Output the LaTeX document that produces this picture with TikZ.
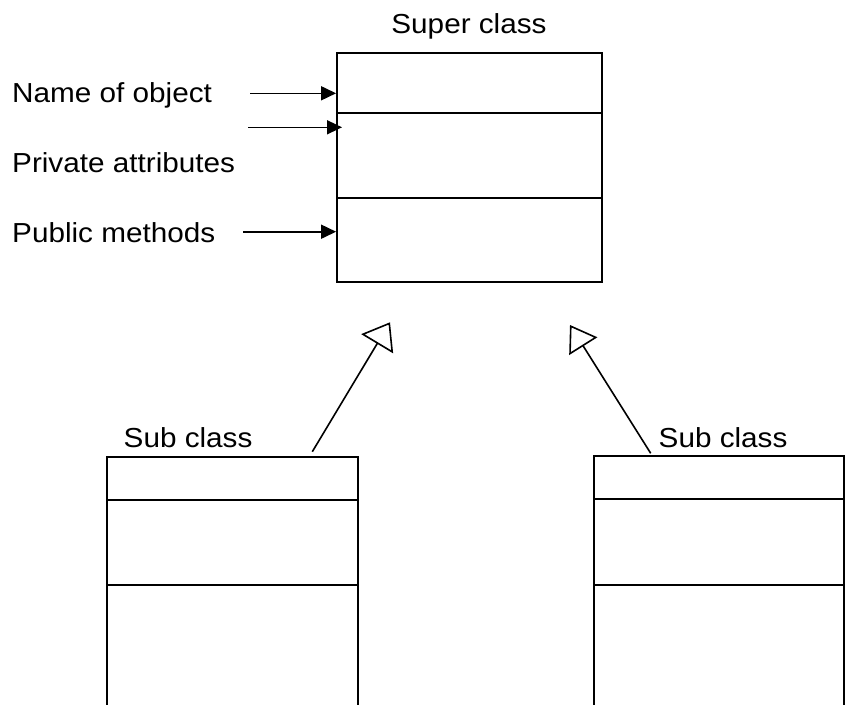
\documentclass[tikz,border=0pt]{standalone}
\usepackage{fontspec}
\setmainfont[FakeStretch=1.08]{Liberation Sans}
\usetikzlibrary{arrows.meta}
\begin{document}
\begin{tikzpicture}[x=1pt,y=-1pt,
  lbl/.style={font=\fontsize{27.5}{30}\selectfont, inner sep=0pt, anchor=base west},
  box/.style={draw, line width=1.8pt, inner sep=0pt},
  divider/.style={line width=1.8pt},
  ptr/.style={line width=1.6pt, -{Triangle[length=15pt,width=14pt]}},
  inh/.style={line width=1.6pt, -{Triangle[open,length=25pt,width=37pt]}}]
\useasboundingbox (0,0) rectangle (845,704);
\clip (0,0) rectangle (845,704);
\fill[white] (0,0) rectangle (845,704);

% super class box
\node[box, minimum width=265pt, minimum height=229pt] (super) at (469.5,167.5) {};
\draw[divider] (super.west |- 0,113) -- (super.east |- 0,113);
\draw[divider] (super.west |- 0,198) -- (super.east |- 0,198);
\node[lbl, anchor=base] (superlbl) at (469,33.3) {Super class};

% labels
\node[lbl] (name) at (12,102.7) {Name of object};
\node[lbl] (priv) at (12,172.7) {Private attributes};
\node[lbl] (pub) at (12,242.3) {Public methods};

% pointer arrows
\coordinate (p1s) at (250,93.3);
\coordinate (p2s) at (248,127.3);
\coordinate (p2e) at (342,127.3);
\coordinate (p3s) at (243,231.7);
\draw[ptr] (p1s) -- (super.west |- p1s);
\draw[ptr] (p2s) -- (p2e);
\draw[ptr] (p3s) -- (super.west |- p3s);

% sub class boxes
\node[box, minimum width=250.4pt, minimum height=303.3pt] (subL) at (232.5,608.35) {};
\draw[divider] (subL.west |- 0,500) -- (subL.east |- 0,500);
\draw[divider] (subL.west |- 0,585.3) -- (subL.east |- 0,585.3);
\node[lbl] (subLlbl) at (123.5,447.3) {Sub class};

\node[box, minimum width=250.3pt, minimum height=304.3pt] (subR) at (719.15,607.85) {};
\draw[divider] (subR.west |- 0,499) -- (subR.east |- 0,499);
\draw[divider] (subR.west |- 0,584.7) -- (subR.east |- 0,584.7);
\node[lbl] (subRlbl) at (658.5,447.3) {Sub class};

% inheritance arrows
\coordinate (iLs) at (312.3,451.7);
\coordinate (iLe) at (390,322.3);
\coordinate (iRs) at (650.7,453.3);
\coordinate (iRe) at (570,325);
\draw[inh] (iLs) -- (iLe);
\draw[inh, -{Triangle[open,length=25pt,width=33pt]}] (iRs) -- (iRe);
\end{tikzpicture}
\end{document}
